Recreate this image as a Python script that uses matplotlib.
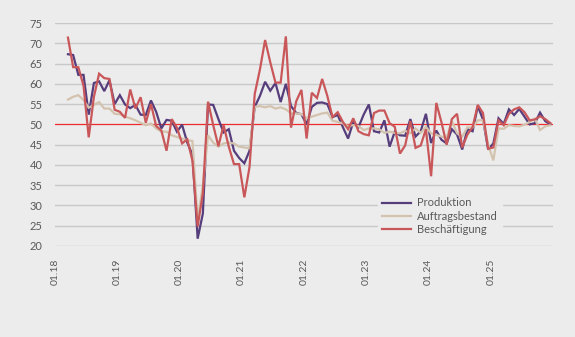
import matplotlib
matplotlib.use("Agg")
import matplotlib.pyplot as plt
import numpy as np
import pandas as pd

# Monthly data, March 2018 - December 2025
start_month = "2018-03"
produktion = [67.3, 67.1, 62.2, 62.2, 52.4, 60.2, 60.6, 58.2, 60.9, 55.0,
              57.2, 54.9, 54.0, 54.8, 52.4, 52.3, 55.9, 53.1, 49.0, 51.1,
              50.9, 48.2, 49.9, 45.5, 42.5, 21.8, 28.0, 54.9, 54.8, 51.3,
              48.0, 48.8, 43.5, 41.7, 40.4, 43.5, 54.3, 57.0, 60.5, 58.3,
              60.2, 55.5, 60.0, 54.5, 52.8, 52.5, 50.0, 54.3, 55.3, 55.4,
              55.0, 51.8, 52.3, 49.3, 46.5, 50.6, 49.3, 52.4, 54.9, 48.3,
              48.0, 51.0, 44.5, 48.2, 47.3, 47.2, 51.3, 47.0, 48.3, 52.6,
              45.4, 48.5, 46.2, 45.3, 48.8, 47.5, 43.8, 48.8, 48.3, 54.5,
              51.2, 43.8, 45.3, 51.5, 50.1, 53.7, 52.3, 53.8, 51.9, 50.0,
              50.3, 52.9, 50.8, 50.0]
auftragsbestand = [56.1, 56.8, 57.2, 56.0, 54.1, 54.8, 55.5, 53.9, 53.9, 52.6,
                   52.5, 51.9, 51.5, 51.0, 50.4, 49.8, 50.2, 49.0, 48.2, 48.2,
                   47.3, 46.9, 46.5, 46.1, 45.9, 26.4, 35.0, 47.3, 45.5, 44.5,
                   45.3, 45.5, 45.3, 44.5, 44.3, 44.1, 54.3, 54.5, 54.2, 54.5,
                   53.9, 54.2, 53.7, 52.7, 52.7, 52.5, 51.5, 51.9, 52.3, 52.7,
                   52.9, 50.9, 50.6, 50.2, 49.6, 49.8, 49.6, 48.6, 49.0, 49.0,
                   48.8, 47.9, 48.2, 47.9, 47.8, 48.4, 47.8, 49.0, 47.9, 49.4,
                   47.8, 47.4, 47.0, 46.6, 50.9, 47.8, 47.0, 49.3, 49.2, 51.0,
                   51.0, 45.0, 41.1, 49.0, 48.9, 49.8, 49.6, 49.5, 49.9, 50.6,
                   51.4, 48.6, 49.5, 49.8]
beschaeftigung = [71.4, 64.1, 64.1, 59.5, 46.8, 56.8, 62.5, 61.4, 61.2, 53.6,
                  53.1, 51.6, 58.6, 53.9, 56.7, 50.4, 55.0, 49.6, 48.5, 43.5,
                  51.3, 49.2, 45.3, 46.3, 41.0, 24.8, 33.0, 55.6, 49.8, 44.6,
                  49.8, 44.5, 40.2, 40.2, 32.0, 39.5, 57.5, 63.5, 70.8, 65.3,
                  60.3, 60.3, 71.7, 49.2, 55.7, 58.5, 46.5, 57.8, 56.5, 61.2,
                  57.0, 51.8, 53.0, 50.6, 48.8, 51.5, 48.3, 47.6, 47.3, 52.8,
                  53.4, 53.4, 50.3, 49.4, 42.8, 44.8, 50.8, 44.2, 44.8, 48.8,
                  37.2, 55.3, 50.5, 45.0, 51.3, 52.6, 44.3, 47.5, 49.3, 54.8,
                  52.8, 44.0, 44.3, 51.0, 49.8, 52.6, 53.7, 54.2, 53.0, 51.0,
                  51.2, 52.0, 51.3, 50.3]
tick_labels = ["01.18", "01.19", "01.20", "01.21", "01.22", "01.23", "01.24", "01.25"]
series_names = ["Produktion", "Auftragsbestand", "Beschäftigung"]
threshold = 50

dates = pd.date_range(start_month, periods=len(produktion), freq="MS")
x = (dates.year - 2018) * 12 + (dates.month - 1)

BG = "#ececec"
TXT = "#595959"
plt.rcParams["font.family"] = ["Lato", "DejaVu Sans"]

fig = plt.figure(figsize=(5.75, 3.37), dpi=100, facecolor=BG)
ax = fig.add_axes([55 / 575, 1 - 246 / 337, 498 / 575, 223 / 337])
ax.set_facecolor(BG)

ax.set_ylim(20, 75)
ax.set_xlim(-0.5, 95.5)
yt = np.arange(20, 76, 5)
ax.set_yticks(yt)
for v in yt:
    if v != threshold:
        ax.axhline(v, color="#c8c8c8", lw=1.0, zorder=1)
ax.axhline(threshold, color="#ee2a2a", lw=0.9, zorder=2)

colors = ["#563d7c", "#d3c3ae", "#c9575a"]
for vals, name, c in zip([produktion, auftragsbestand, beschaeftigung], series_names, colors):
    ax.plot(x, vals, color=c, lw=1.6, label=name, zorder=3, solid_joinstyle="miter")

ax.set_xticks([12 * k - 0.5 for k in range(len(tick_labels))])
ax.set_xticklabels(tick_labels, rotation=90, fontsize=7.5, color=TXT)
ax.tick_params(axis="x", length=0, pad=9)
ax.tick_params(axis="y", length=0, pad=9, labelsize=8, labelcolor=TXT)
for s in ax.spines.values():
    s.set_visible(False)

leg = ax.legend(loc="upper left", bbox_to_anchor=(378 / 575, 1 - 193 / 337),
                bbox_transform=fig.transFigure, frameon=True, facecolor=BG,
                edgecolor=BG, framealpha=1, fontsize=8, handlelength=2.6,
                handletextpad=0.5, labelspacing=0.2, borderpad=0.4,
                borderaxespad=0, fancybox=False)
for t in leg.get_texts():
    t.set_color(TXT)

fig.savefig("out.png", dpi=100, facecolor=BG)
